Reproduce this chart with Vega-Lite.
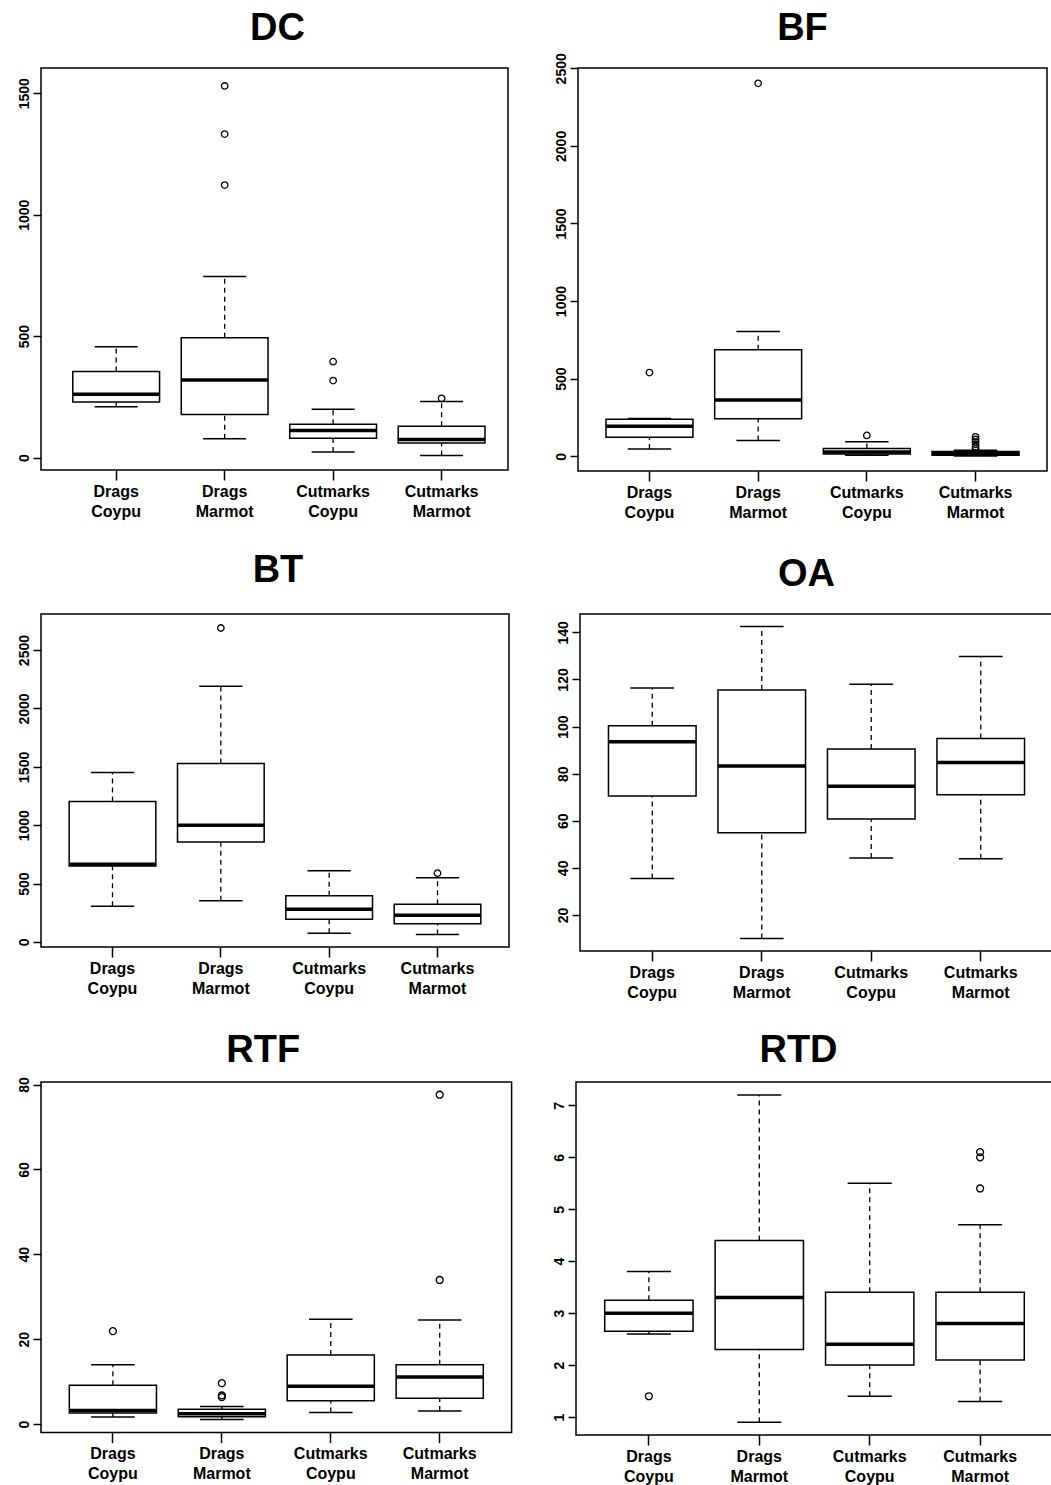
{
"$schema": "https://vega.github.io/schema/vega-lite/v6.json",
"padding": {"left": 16, "top": 8, "right": 0, "bottom": 0},
"background": "white",
"datasets": {
"stats": [
{"panel":"DC","group":"Drags Coypu","lower":209,"q1":229,"median":261,"q3":355,"upper":456},
{"panel":"DC","group":"Drags Marmot","lower":78,"q1":178,"median":320,"q3":493,"upper":746},
{"panel":"DC","group":"Cutmarks Coypu","lower":23,"q1":80,"median":112,"q3":137,"upper":199},
{"panel":"DC","group":"Cutmarks Marmot","lower":9,"q1":60,"median":75,"q3":129,"upper":231},
{"panel":"BF","group":"Drags Coypu","lower":47,"q1":123,"median":194,"q3":239,"upper":243},
{"panel":"BF","group":"Drags Marmot","lower":101,"q1":241,"median":362,"q3":687,"upper":804},
{"panel":"BF","group":"Cutmarks Coypu","lower":6,"q1":15,"median":28,"q3":50,"upper":93},
{"panel":"BF","group":"Cutmarks Marmot","lower":1,"q1":7,"median":17,"q3":30,"upper":38},
{"panel":"BT","group":"Drags Coypu","lower":306,"q1":651,"median":666,"q3":1203,"upper":1451},
{"panel":"BT","group":"Drags Marmot","lower":354,"q1":857,"median":1000,"q3":1529,"upper":2191},
{"panel":"BT","group":"Cutmarks Coypu","lower":74,"q1":194,"median":280,"q3":397,"upper":609},
{"panel":"BT","group":"Cutmarks Marmot","lower":63,"q1":157,"median":229,"q3":323,"upper":551},
{"panel":"OA","group":"Drags Coypu","lower":35.5,"q1":70.5,"median":93.6,"q3":100.4,"upper":116.4},
{"panel":"OA","group":"Drags Marmot","lower":10.0,"q1":54.9,"median":83.3,"q3":115.5,"upper":142.5},
{"panel":"OA","group":"Cutmarks Coypu","lower":44.2,"q1":60.8,"median":74.7,"q3":90.5,"upper":118.0},
{"panel":"OA","group":"Cutmarks Marmot","lower":43.9,"q1":71.0,"median":84.7,"q3":94.9,"upper":129.8},
{"panel":"RTF","group":"Drags Coypu","lower":1.65,"q1":2.6,"median":3.2,"q3":9.18,"upper":13.96},
{"panel":"RTF","group":"Drags Marmot","lower":1.1,"q1":1.73,"median":2.43,"q3":3.53,"upper":4.16},
{"panel":"RTF","group":"Cutmarks Coypu","lower":2.75,"q1":5.5,"median":8.94,"q3":16.3,"upper":24.7},
{"panel":"RTF","group":"Cutmarks Marmot","lower":3.1,"q1":6.1,"median":11.1,"q3":13.96,"upper":24.5},
{"panel":"RTD","group":"Drags Coypu","lower":2.6,"q1":2.65,"median":3.0,"q3":3.25,"upper":3.8},
{"panel":"RTD","group":"Drags Marmot","lower":0.9,"q1":2.3,"median":3.3,"q3":4.4,"upper":7.2},
{"panel":"RTD","group":"Cutmarks Coypu","lower":1.4,"q1":2.0,"median":2.4,"q3":3.4,"upper":5.5},
{"panel":"RTD","group":"Cutmarks Marmot","lower":1.3,"q1":2.1,"median":2.8,"q3":3.4,"upper":4.7}
],
"out": [
{"panel":"DC","group":"Drags Marmot","value":1530},
{"panel":"DC","group":"Drags Marmot","value":1332},
{"panel":"DC","group":"Drags Marmot","value":1122},
{"panel":"DC","group":"Cutmarks Coypu","value":395},
{"panel":"DC","group":"Cutmarks Coypu","value":317},
{"panel":"DC","group":"Cutmarks Marmot","value":244},
{"panel":"BF","group":"Drags Coypu","value":539},
{"panel":"BF","group":"Drags Marmot","value":2403},
{"panel":"BF","group":"Cutmarks Coypu","value":134},
{"panel":"BF","group":"Cutmarks Marmot","value":125},
{"panel":"BF","group":"Cutmarks Marmot","value":108},
{"panel":"BF","group":"Cutmarks Marmot","value":92},
{"panel":"BF","group":"Cutmarks Marmot","value":77},
{"panel":"BF","group":"Cutmarks Marmot","value":62},
{"panel":"BF","group":"Cutmarks Marmot","value":48},
{"panel":"BT","group":"Drags Marmot","value":2689},
{"panel":"BT","group":"Cutmarks Marmot","value":589},
{"panel":"RTF","group":"Drags Coypu","value":21.9},
{"panel":"RTF","group":"Drags Marmot","value":9.65},
{"panel":"RTF","group":"Drags Marmot","value":6.75},
{"panel":"RTF","group":"Drags Marmot","value":6.35},
{"panel":"RTF","group":"Cutmarks Marmot","value":77.6},
{"panel":"RTF","group":"Cutmarks Marmot","value":33.96},
{"panel":"RTD","group":"Drags Coypu","value":1.4},
{"panel":"RTD","group":"Cutmarks Marmot","value":6.1},
{"panel":"RTD","group":"Cutmarks Marmot","value":6.0},
{"panel":"RTD","group":"Cutmarks Marmot","value":5.4}
]
},
"spacing": 30,
"vconcat": [
{"hconcat": [
{"title": {"text": "DC", "offset": 20, "dx": 3},
 "width": 467, "height": 402,
 "data": {"name": "stats"},
 "transform": [{"filter": "datum.panel === 'DC'"}],
 "encoding": {"x": {"field": "group", "type": "nominal", "scale": {"type": "band", "domain": ["Drags Coypu","Drags Marmot","Cutmarks Coypu","Cutmarks Marmot"], "paddingInner": 0.2, "paddingOuter": 0.2525, "align": 0.58}, "axis": {"title": null, "labelExpr": "split(datum.label, ' ')"}}},
 "layer": [
  {"mark": {"type": "rule", "color": "black", "strokeWidth": 1.3, "strokeDash": [5,4]}, "encoding": {"y": {"field": "lower", "type": "quantitative", "scale": {"domain": [-51, 1604], "nice": false, "zero": false}, "axis": {"title": null, "format": "d", "values": [0,500,1000,1500]}}, "y2": {"field": "q1"}}},
  {"mark": {"type": "rule", "color": "black", "strokeWidth": 1.3, "strokeDash": [5,4]}, "encoding": {"y": {"field": "q3", "type": "quantitative"}, "y2": {"field": "upper"}}},
  {"mark": {"type": "bar", "fill": "white", "stroke": "black", "strokeWidth": 1.5}, "encoding": {"y": {"field": "q1", "type": "quantitative"}, "y2": {"field": "q3"}}},
  {"mark": {"type": "tick", "color": "black", "thickness": 3.5, "size": 87, "opacity": 1}, "encoding": {"y": {"field": "median", "type": "quantitative"}}},
  {"mark": {"type": "tick", "color": "black", "thickness": 1.5, "size": 43, "opacity": 1}, "encoding": {"y": {"field": "lower", "type": "quantitative"}}},
  {"mark": {"type": "tick", "color": "black", "thickness": 1.5, "size": 43, "opacity": 1}, "encoding": {"y": {"field": "upper", "type": "quantitative"}}},
  {"data": {"name": "out"}, "transform": [{"filter": "datum.panel === 'DC'"}], "mark": {"type": "point", "shape": "circle", "filled": false, "color": "black", "strokeWidth": 1.3, "size": 42, "opacity": 1}, "encoding": {"y": {"field": "value", "type": "quantitative"}}}
 ]},
{"title": {"text": "BF", "offset": 5, "dx": -10},
 "width": 469, "height": 403,
 "data": {"name": "stats"},
 "transform": [{"filter": "datum.panel === 'BF'"}],
 "encoding": {"x": {"field": "group", "type": "nominal", "scale": {"type": "band", "domain": ["Drags Coypu","Drags Marmot","Cutmarks Coypu","Cutmarks Marmot"], "paddingInner": 0.2, "paddingOuter": 0.2575, "align": 0.5}, "axis": {"title": null, "labelExpr": "split(datum.label, ' ')"}}},
 "layer": [
  {"mark": {"type": "rule", "color": "black", "strokeWidth": 1.3, "strokeDash": [5,4]}, "encoding": {"y": {"field": "lower", "type": "quantitative", "scale": {"domain": [-95, 2502], "nice": false, "zero": false}, "axis": {"title": null, "format": "d", "values": [0,500,1000,1500,2000,2500]}}, "y2": {"field": "q1"}}},
  {"mark": {"type": "rule", "color": "black", "strokeWidth": 1.3, "strokeDash": [5,4]}, "encoding": {"y": {"field": "q3", "type": "quantitative"}, "y2": {"field": "upper"}}},
  {"mark": {"type": "bar", "fill": "white", "stroke": "black", "strokeWidth": 1.5}, "encoding": {"y": {"field": "q1", "type": "quantitative"}, "y2": {"field": "q3"}}},
  {"mark": {"type": "tick", "color": "black", "thickness": 3.5, "size": 87, "opacity": 1}, "encoding": {"y": {"field": "median", "type": "quantitative"}}},
  {"mark": {"type": "tick", "color": "black", "thickness": 1.5, "size": 43.5, "opacity": 1}, "encoding": {"y": {"field": "lower", "type": "quantitative"}}},
  {"mark": {"type": "tick", "color": "black", "thickness": 1.5, "size": 43.5, "opacity": 1}, "encoding": {"y": {"field": "upper", "type": "quantitative"}}},
  {"data": {"name": "out"}, "transform": [{"filter": "datum.panel === 'BF'"}], "mark": {"type": "point", "shape": "circle", "filled": false, "color": "black", "strokeWidth": 1.3, "size": 42, "opacity": 1}, "encoding": {"y": {"field": "value", "type": "quantitative"}}}
 ]}
], "spacing": 44},
{"hconcat": [
{"title": {"text": "BT", "offset": 24, "dx": 3},
 "width": 468, "height": 333,
 "data": {"name": "stats"},
 "transform": [{"filter": "datum.panel === 'BT'"}],
 "encoding": {"x": {"field": "group", "type": "nominal", "scale": {"type": "band", "domain": ["Drags Coypu","Drags Marmot","Cutmarks Coypu","Cutmarks Marmot"], "paddingInner": 0.2, "paddingOuter": 0.26, "align": 0.5}, "axis": {"title": null, "labelExpr": "split(datum.label, ' ')"}}},
 "layer": [
  {"mark": {"type": "rule", "color": "black", "strokeWidth": 1.3, "strokeDash": [5,4]}, "encoding": {"y": {"field": "lower", "type": "quantitative", "scale": {"domain": [-43, 2809], "nice": false, "zero": false}, "axis": {"title": null, "format": "d", "values": [0,500,1000,1500,2000,2500]}}, "y2": {"field": "q1"}}},
  {"mark": {"type": "rule", "color": "black", "strokeWidth": 1.3, "strokeDash": [5,4]}, "encoding": {"y": {"field": "q3", "type": "quantitative"}, "y2": {"field": "upper"}}},
  {"mark": {"type": "bar", "fill": "white", "stroke": "black", "strokeWidth": 1.5}, "encoding": {"y": {"field": "q1", "type": "quantitative"}, "y2": {"field": "q3"}}},
  {"mark": {"type": "tick", "color": "black", "thickness": 3.5, "size": 86.7, "opacity": 1}, "encoding": {"y": {"field": "median", "type": "quantitative"}}},
  {"mark": {"type": "tick", "color": "black", "thickness": 1.5, "size": 43.3, "opacity": 1}, "encoding": {"y": {"field": "lower", "type": "quantitative"}}},
  {"mark": {"type": "tick", "color": "black", "thickness": 1.5, "size": 43.3, "opacity": 1}, "encoding": {"y": {"field": "upper", "type": "quantitative"}}},
  {"data": {"name": "out"}, "transform": [{"filter": "datum.panel === 'BT'"}], "mark": {"type": "point", "shape": "circle", "filled": false, "color": "black", "strokeWidth": 1.3, "size": 42, "opacity": 1}, "encoding": {"y": {"field": "value", "type": "quantitative"}}}
 ]},
{"title": {"text": "OA", "offset": 20, "dx": -10},
 "width": 473, "height": 337,
 "data": {"name": "stats"},
 "transform": [{"filter": "datum.panel === 'OA'"}],
 "encoding": {"x": {"field": "group", "type": "nominal", "scale": {"type": "band", "domain": ["Drags Coypu","Drags Marmot","Cutmarks Coypu","Cutmarks Marmot"], "paddingInner": 0.2, "paddingOuter": 0.26, "align": 0.5}, "axis": {"title": null, "labelExpr": "split(datum.label, ' ')"}}},
 "layer": [
  {"mark": {"type": "rule", "color": "black", "strokeWidth": 1.3, "strokeDash": [5,4]}, "encoding": {"y": {"field": "lower", "type": "quantitative", "scale": {"domain": [4.7, 147.8], "nice": false, "zero": false}, "axis": {"title": null, "format": "d", "values": [20,40,60,80,100,120,140]}}, "y2": {"field": "q1"}}},
  {"mark": {"type": "rule", "color": "black", "strokeWidth": 1.3, "strokeDash": [5,4]}, "encoding": {"y": {"field": "q3", "type": "quantitative"}, "y2": {"field": "upper"}}},
  {"mark": {"type": "bar", "fill": "white", "stroke": "black", "strokeWidth": 1.5}, "encoding": {"y": {"field": "q1", "type": "quantitative"}, "y2": {"field": "q3"}}},
  {"mark": {"type": "tick", "color": "black", "thickness": 3.5, "size": 87.6, "opacity": 1}, "encoding": {"y": {"field": "median", "type": "quantitative"}}},
  {"mark": {"type": "tick", "color": "black", "thickness": 1.5, "size": 43.8, "opacity": 1}, "encoding": {"y": {"field": "lower", "type": "quantitative"}}},
  {"mark": {"type": "tick", "color": "black", "thickness": 1.5, "size": 43.8, "opacity": 1}, "encoding": {"y": {"field": "upper", "type": "quantitative"}}}
 ]}
], "spacing": 45},
{"hconcat": [
{"title": {"text": "RTF", "offset": 7, "dx": -13},
 "width": 470.6, "height": 350.6,
 "data": {"name": "stats"},
 "transform": [{"filter": "datum.panel === 'RTF'"}],
 "encoding": {"x": {"field": "group", "type": "nominal", "scale": {"type": "band", "domain": ["Drags Coypu","Drags Marmot","Cutmarks Coypu","Cutmarks Marmot"], "paddingInner": 0.2, "paddingOuter": 0.26, "align": 0.5}, "axis": {"title": null, "labelExpr": "split(datum.label, ' ')"}}},
 "layer": [
  {"mark": {"type": "rule", "color": "black", "strokeWidth": 1.3, "strokeDash": [5,4]}, "encoding": {"y": {"field": "lower", "type": "quantitative", "scale": {"domain": [-2.0, 80.6], "nice": false, "zero": false}, "axis": {"title": null, "format": "d", "values": [0,20,40,60,80]}}, "y2": {"field": "q1"}}},
  {"mark": {"type": "rule", "color": "black", "strokeWidth": 1.3, "strokeDash": [5,4]}, "encoding": {"y": {"field": "q3", "type": "quantitative"}, "y2": {"field": "upper"}}},
  {"mark": {"type": "bar", "fill": "white", "stroke": "black", "strokeWidth": 1.5}, "encoding": {"y": {"field": "q1", "type": "quantitative"}, "y2": {"field": "q3"}}},
  {"mark": {"type": "tick", "color": "black", "thickness": 3.5, "size": 87.2, "opacity": 1}, "encoding": {"y": {"field": "median", "type": "quantitative"}}},
  {"mark": {"type": "tick", "color": "black", "thickness": 1.5, "size": 43.6, "opacity": 1}, "encoding": {"y": {"field": "lower", "type": "quantitative"}}},
  {"mark": {"type": "tick", "color": "black", "thickness": 1.5, "size": 43.6, "opacity": 1}, "encoding": {"y": {"field": "upper", "type": "quantitative"}}},
  {"data": {"name": "out"}, "transform": [{"filter": "datum.panel === 'RTF'"}], "mark": {"type": "point", "shape": "circle", "filled": false, "color": "black", "strokeWidth": 1.3, "size": 48, "opacity": 1}, "encoding": {"y": {"field": "value", "type": "quantitative"}}}
 ]},
{"title": {"text": "RTD", "offset": 12, "dx": -16},
 "width": 477, "height": 353,
 "data": {"name": "stats"},
 "transform": [{"filter": "datum.panel === 'RTD'"}],
 "encoding": {"x": {"field": "group", "type": "nominal", "scale": {"type": "band", "domain": ["Drags Coypu","Drags Marmot","Cutmarks Coypu","Cutmarks Marmot"], "paddingInner": 0.2, "paddingOuter": 0.26, "align": 0.5}, "axis": {"title": null, "labelExpr": "split(datum.label, ' ')"}}},
 "layer": [
  {"mark": {"type": "rule", "color": "black", "strokeWidth": 1.3, "strokeDash": [5,4]}, "encoding": {"y": {"field": "lower", "type": "quantitative", "scale": {"domain": [0.654, 7.45], "nice": false, "zero": false}, "axis": {"title": null, "format": "d", "values": [1,2,3,4,5,6,7]}}, "y2": {"field": "q1"}}},
  {"mark": {"type": "rule", "color": "black", "strokeWidth": 1.3, "strokeDash": [5,4]}, "encoding": {"y": {"field": "q3", "type": "quantitative"}, "y2": {"field": "upper"}}},
  {"mark": {"type": "bar", "fill": "white", "stroke": "black", "strokeWidth": 1.5}, "encoding": {"y": {"field": "q1", "type": "quantitative"}, "y2": {"field": "q3"}}},
  {"mark": {"type": "tick", "color": "black", "thickness": 3.5, "size": 88.2, "opacity": 1}, "encoding": {"y": {"field": "median", "type": "quantitative"}}},
  {"mark": {"type": "tick", "color": "black", "thickness": 1.5, "size": 44.1, "opacity": 1}, "encoding": {"y": {"field": "lower", "type": "quantitative"}}},
  {"mark": {"type": "tick", "color": "black", "thickness": 1.5, "size": 44.1, "opacity": 1}, "encoding": {"y": {"field": "upper", "type": "quantitative"}}},
  {"data": {"name": "out"}, "transform": [{"filter": "datum.panel === 'RTD'"}], "mark": {"type": "point", "shape": "circle", "filled": false, "color": "black", "strokeWidth": 1.3, "size": 48, "opacity": 1}, "encoding": {"y": {"field": "value", "type": "quantitative"}}}
 ]}
], "spacing": 38}
],
"config": {
 "font": "Liberation Sans",
 "view": {"stroke": "black", "strokeWidth": 1.5},
 "axis": {"grid": false, "domain": false, "tickColor": "black", "tickWidth": 1.5, "labelColor": "black", "labelFont": "Liberation Sans", "labelFontWeight": "bold", "labelFlush": false, "labelOverlap": false},
 "axisX": {"labelFontSize": 16, "labelAngle": 0, "labelPadding": 3, "labelLineHeight": 20, "tickSize": 10},
 "axisY": {"labelFontSize": 14, "labelAngle": -90, "labelPadding": 2, "tickSize": 8},
 "title": {"fontSize": 38, "fontWeight": "bold", "font": "Liberation Sans", "color": "black", "anchor": "middle", "baseline": "alphabetic"}
}
}
